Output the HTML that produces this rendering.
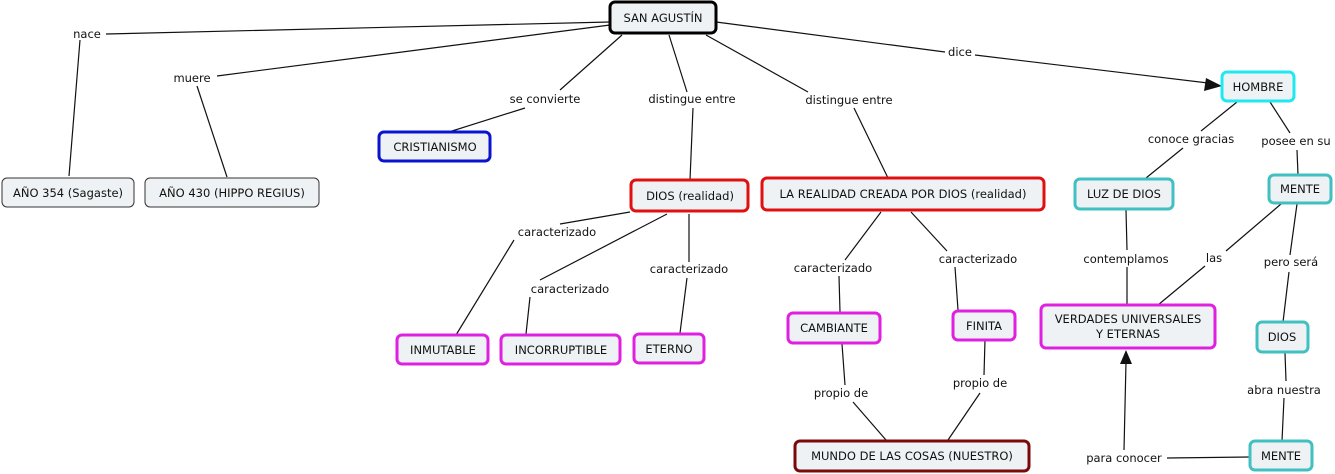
<!DOCTYPE html>
<html><head><meta charset="utf-8"><style>
html,body{margin:0;padding:0;background:#fff;width:1335px;height:474px;overflow:hidden}
text{font-family:"DejaVu Sans","Liberation Sans",sans-serif;font-size:11.5px;fill:#111}
.n{fill:#eef2f4}
</style></head><body>
<svg width="1335" height="474" xmlns="http://www.w3.org/2000/svg">
<g stroke="#111" stroke-width="1.2" fill="none">
<polyline points="610,22 106,34"/><polyline points="80,40 69,176"/>
<polyline points="610,25 217,76"/><polyline points="197,86 227,177"/>
<polyline points="622,35 560,90"/><polyline points="525,108 452,131"/>
<polyline points="669,35 687,92"/><polyline points="693,108 690,180"/>
<polyline points="706,35 808,92"/><polyline points="854,108 888,178"/>
<polyline points="716,22 945,52"/><polyline points="975,55 1208,83"/>
<polyline points="630,212 560,224"/><polyline points="514,240 456,335"/>
<polyline points="667,214 540,280"/><polyline points="530,297 526,334"/>
<polyline points="689,214 689,262"/><polyline points="687,278 680,333"/>
<polyline points="881,212 845,260"/><polyline points="839,276 840,312"/>
<polyline points="911,212 947,251"/><polyline points="955,267 958,310"/>
<polyline points="842,344 845,385"/><polyline points="853,402 886,440"/>
<polyline points="985,340 984,375"/><polyline points="980,393 948,440"/>
<polyline points="1237,102 1201,131"/><polyline points="1183,148 1146,178"/>
<polyline points="1270,102 1290,133"/><polyline points="1297,150 1298,175"/>
<polyline points="1126,210 1127,250"/><polyline points="1127,267 1127,304"/>
<polyline points="1281,204 1226,251"/><polyline points="1205,266 1158,305"/>
<polyline points="1297,204 1290,255"/><polyline points="1289,272 1283,322"/>
<polyline points="1285,353 1286,381"/><polyline points="1284,398 1282,441"/>
<polyline points="1250,457 1167,458"/><polyline points="1124,450 1126,362"/>
</g>
<polygon points="1222,86 1206,78 1204,91" fill="#111"/>
<polygon points="1126,350 1120,364 1132,364" fill="#111"/>
<g>
<rect class="n" x="610" y="2" width="106" height="31" rx="5" stroke="#000" stroke-width="3"/>
<rect class="n" x="2" y="178" width="132" height="29" rx="5" stroke="#333" stroke-width="1"/>
<rect class="n" x="145" y="178" width="174" height="29" rx="5" stroke="#333" stroke-width="1"/>
<rect class="n" x="379" y="132" width="111" height="29" rx="5" stroke="#0a14d0" stroke-width="3"/>
<rect class="n" x="631" y="180" width="117" height="31" rx="5" stroke="#e01010" stroke-width="3"/>
<rect class="n" x="762" y="178" width="282" height="32" rx="5" stroke="#e01010" stroke-width="3"/>
<rect class="n" x="397" y="335" width="91" height="29" rx="5" stroke="#e020e0" stroke-width="3"/>
<rect class="n" x="501" y="335" width="119" height="29" rx="5" stroke="#e020e0" stroke-width="3"/>
<rect class="n" x="634" y="334" width="70" height="29" rx="5" stroke="#e020e0" stroke-width="3"/>
<rect class="n" x="788" y="313" width="92" height="30" rx="5" stroke="#e020e0" stroke-width="3"/>
<rect class="n" x="953" y="311" width="62" height="29" rx="5" stroke="#e020e0" stroke-width="3"/>
<rect class="n" x="795" y="441" width="234" height="30" rx="5" stroke="#7a0a0a" stroke-width="3"/>
<rect class="n" x="1222" y="72" width="72" height="29" rx="5" stroke="#20e8f0" stroke-width="3"/>
<rect class="n" x="1075" y="179" width="98" height="30" rx="5" stroke="#40c0c0" stroke-width="3"/>
<rect class="n" x="1269" y="175" width="62" height="28" rx="5" stroke="#40c0c0" stroke-width="3"/>
<rect class="n" x="1041" y="305" width="174" height="43" rx="5" stroke="#e020e0" stroke-width="3"/>
<rect class="n" x="1257" y="322" width="51" height="30" rx="5" stroke="#40c0c0" stroke-width="3"/>
<rect class="n" x="1250" y="441" width="62" height="29" rx="5" stroke="#40c0c0" stroke-width="3"/>
</g>
<g text-anchor="middle">
<text x="663" y="22">SAN AGUSTÍN</text>
<text x="68" y="197">AÑO 354 (Sagaste)</text>
<text x="232" y="197">AÑO 430 (HIPPO REGIUS)</text>
<text x="435" y="151">CRISTIANISMO</text>
<text x="690" y="200">DIOS (realidad)</text>
<text x="903" y="198">LA REALIDAD CREADA POR DIOS (realidad)</text>
<text x="443" y="354">INMUTABLE</text>
<text x="561" y="354">INCORRUPTIBLE</text>
<text x="669" y="353">ETERNO</text>
<text x="834" y="332">CAMBIANTE</text>
<text x="984" y="330">FINITA</text>
<text x="912" y="460">MUNDO DE LAS COSAS (NUESTRO)</text>
<text x="1258" y="91">HOMBRE</text>
<text x="1124" y="198">LUZ DE DIOS</text>
<text x="1300" y="193">MENTE</text>
<text x="1128" y="323">VERDADES UNIVERSALES</text>
<text x="1128" y="338">Y ETERNAS</text>
<text x="1282" y="341">DIOS</text>
<text x="1281" y="460">MENTE</text>
<text x="87" y="38">nace</text>
<text x="192" y="82">muere</text>
<text x="545" y="103">se convierte</text>
<text x="692" y="103">distingue entre</text>
<text x="849" y="104">distingue entre</text>
<text x="960" y="56">dice</text>
<text x="1191" y="143">conoce gracias</text>
<text x="1296" y="145">posee en su</text>
<text x="1126" y="263">contemplamos</text>
<text x="1214" y="262">las</text>
<text x="1291" y="266">pero será</text>
<text x="557" y="236">caracterizado</text>
<text x="570" y="293">caracterizado</text>
<text x="689" y="273">caracterizado</text>
<text x="833" y="272">caracterizado</text>
<text x="978" y="263">caracterizado</text>
<text x="841" y="397">propio de</text>
<text x="980" y="387">propio de</text>
<text x="1284" y="394">abra nuestra</text>
<text x="1124" y="462">para conocer</text>
</g>
</svg>
</body></html>
